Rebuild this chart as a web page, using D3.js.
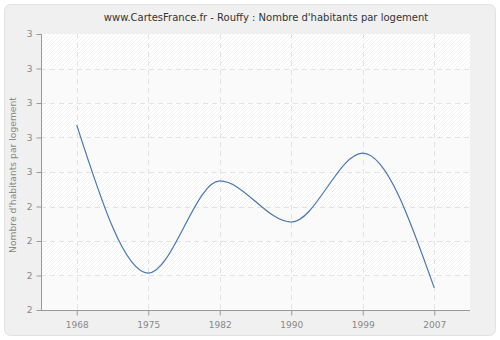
<!DOCTYPE html>
<html lang="fr">
<head>
<meta charset="utf-8">
<title>Rouffy</title>
<script src="https://d3js.org/d3.v7.min.js"></script>
<style>
  body { margin: 0; background: #fff; }
  text { font-family: "DejaVu Sans", Verdana, sans-serif; }
</style>
</head>
<body>
<svg id="chart" width="500" height="340"></svg>
<script>
var years = ["1968", "1975", "1982", "1990", "1999", "2007"];
var values = [2.636, 2.207, 2.474, 2.355, 2.555, 2.164];
var yTicks = [2.1, 2.2, 2.3, 2.4, 2.5, 2.6, 2.7, 2.8, 2.9];

var svg = d3.select("#chart");
var pLeft = 41, pRight = 470, pTop = 34, pBottom = 310;

// panel
svg.append("rect").attr("x", 0).attr("y", 0).attr("width", 500).attr("height", 340).attr("fill", "#ffffff");
svg.append("rect").attr("x", 4.5).attr("y", 4.5).attr("width", 491).attr("height", 331)
  .attr("rx", 6).attr("fill", "#f0f0f0").attr("stroke", "#e2e2e2");

var defs = svg.append("defs");
var pat = defs.append("pattern").attr("id", "hatch").attr("patternUnits", "userSpaceOnUse")
  .attr("width", 4).attr("height", 4);
pat.append("rect").attr("width", 4).attr("height", 4).attr("fill", "#ffffff");
pat.append("path").attr("d", "M-1,1 l2,-2 M0,4 l4,-4 M3,5 l2,-2")
  .attr("stroke", "#ededed").attr("stroke-width", 0.8);

var x = d3.scalePoint().domain(years).range([pLeft, pRight]).padding(0.5);
var y = d3.scaleLinear().domain([2.1, 2.9]).range([pBottom, pTop]);

svg.append("rect").attr("x", pLeft).attr("y", pTop).attr("width", pRight - pLeft).attr("height", pBottom - pTop)
  .attr("fill", "url(#hatch)");

// alternate plain bands
for (var i = 0; i < yTicks.length - 1; i += 2) {
  svg.append("rect").attr("x", pLeft).attr("width", pRight - pLeft)
    .attr("y", y(yTicks[i + 1])).attr("height", y(yTicks[i]) - y(yTicks[i + 1]))
    .attr("fill", "#fafafa");
}

// grid
svg.append("g").selectAll("line").data(yTicks.slice(1, -1)).join("line")
  .attr("x1", pLeft).attr("x2", pRight).attr("y1", d => Math.round(y(d)) + 0.5).attr("y2", d => Math.round(y(d)) + 0.5)
  .attr("stroke", "#e3e3e3").attr("stroke-dasharray", "5,4");
svg.append("g").selectAll("line").data(years).join("line")
  .attr("x1", d => Math.round(x(d)) + 0.5).attr("x2", d => Math.round(x(d)) + 0.5)
  .attr("y1", pTop).attr("y2", pBottom)
  .attr("stroke", "#e3e3e3").attr("stroke-dasharray", "5,4");

// axes
var xAxis = svg.append("g").attr("transform", "translate(0," + (pBottom + 0.5) + ")")
  .call(d3.axisBottom(x).tickSize(5).tickPadding(6));
var yAxis = svg.append("g").attr("transform", "translate(" + (pLeft + 0.5) + ",0)")
  .call(d3.axisLeft(y).tickValues(yTicks).tickSize(5).tickPadding(4).tickFormat(d3.format(".0f")));
xAxis.select(".domain").attr("d", "M" + pLeft + ",0H" + pRight);
yAxis.select(".domain").attr("d", "M0," + pTop + "V" + pBottom);
[xAxis, yAxis].forEach(function (g) {
  g.select(".domain").attr("stroke", "#999");
  g.selectAll(".tick line").attr("stroke", "#999");
  g.selectAll("text").attr("fill", "#888").attr("font-size", 9)
    .attr("font-family", "DejaVu Sans, Verdana, sans-serif");
});

// line
var line = d3.line().x((d, i) => x(years[i])).y(d => y(d)).curve(d3.curveMonotoneX);
svg.append("path").datum(values).attr("d", line)
  .attr("fill", "none").attr("stroke", "#4a78b0").attr("stroke-width", 1.2);

// titles
svg.append("text").attr("x", 266).attr("y", 21).attr("text-anchor", "middle")
  .attr("font-size", 10).attr("fill", "#333")
  .text("www.CartesFrance.fr - Rouffy : Nombre d'habitants par logement");
svg.append("text").attr("transform", "translate(16,175) rotate(-90)").attr("text-anchor", "middle")
  .attr("font-size", 9.2).attr("fill", "#888")
  .text("Nombre d'habitants par logement");
</script>
</body>
</html>
